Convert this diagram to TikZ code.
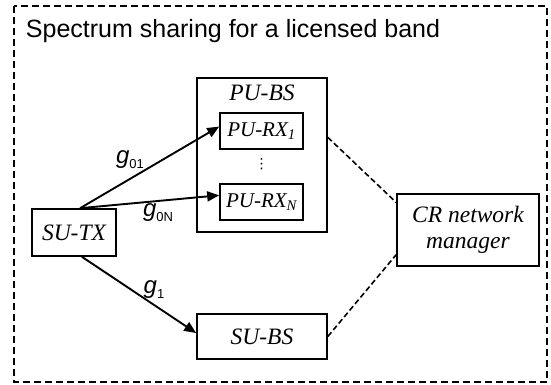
\documentclass[tikz,border=0pt]{standalone}
\usepackage{fontspec}
\setmainfont{Liberation Serif}
\setsansfont{Liberation Sans}
\newfontfamily\symfont{DejaVu Sans}
\usetikzlibrary{arrows.meta}

% channel gain with a lowered index
\newcommand{\chgain}[1]{\textit{g}\raisebox{-0.2em}{\fontsize{13}{13}\selectfont #1}}

\begin{document}
\begin{tikzpicture}[x=1pt,y=-1pt,->,>={Triangle[length=12pt,width=10pt]},line width=1.9pt,
                    box/.style={draw,rectangle,inner sep=0pt,line width=1.6pt,align=center,
                                font=\fontsize{23.5}{26}\selectfont\itshape},
                    rxbox/.style={box,minimum width=83pt,minimum height=36pt,
                                  font=\fontsize{21}{24}\selectfont\itshape},
                    gain/.style={inner sep=0pt,font=\sffamily\fontsize{24}{24}\selectfont},
                    link/.style={-,line width=1.6pt,dash pattern=on 5.5pt off 3pt}]
  \useasboundingbox (0,0) rectangle (551,385);
  \draw[-,line width=2pt,dash pattern=on 7pt off 4pt] (14,6) rectangle (547,382);

  \node[gain, font=\sffamily\fontsize{25}{25}\selectfont, anchor=base west] (title) at (25,38) {Spectrum sharing for a licensed band};

  \node[box, minimum width=84pt, minimum height=47pt] (sutx) at (74,232.5) {SU-TX};
  \node[box, minimum width=130pt, minimum height=154pt] (pubs) at (262,155) {};
  \node[font=\fontsize{23.5}{26}\selectfont\itshape] (pubslabel) at (262,93) {PU-BS};
  \node[rxbox] (rx1) at (261.5,131) {PU-RX\textsubscript{1}};
  \node[inner sep=0pt, font=\symfont\fontsize{14}{14}\selectfont] (dots) at (261.5,164.5) {⋮};
  \node[rxbox] (rxn) at (261.5,202) {PU-RX\textsubscript{N}};
  \node[box, minimum width=142pt, minimum height=72pt] (crnm) at (468,230) {CR network\\manager};
  \node[box, minimum width=130pt, minimum height=45pt] (subs) at (262,336.5) {SU-BS};

  \node[gain] (g01) at (130,160) {\chgain{01}};
  \node[gain] (g0n) at (158,213) {\chgain{0N}};
  \node[gain] (g1) at (154,290) {\chgain{1}};

  \path (sutx.76) edge (rx1.174)
        (sutx.76) edge (rxn.171)
        (sutx.-72) edge (subs.177);
  \draw[link] (pubs.15) -- (crnm.159);
  \draw[link] (subs.east) -- (crnm.199);
\end{tikzpicture}
\end{document}
